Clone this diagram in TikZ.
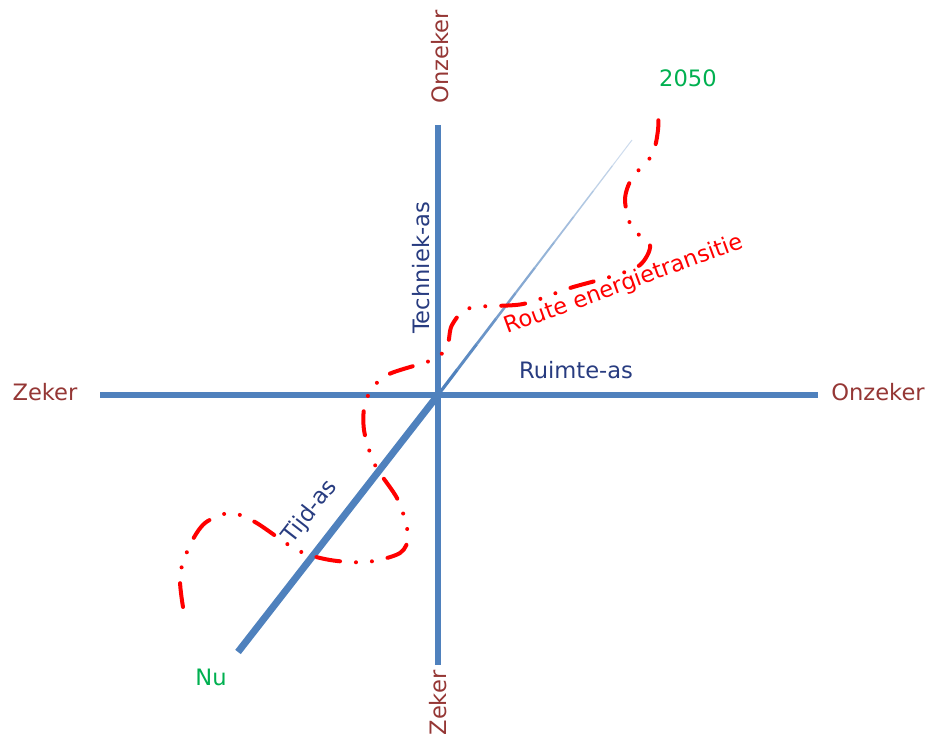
\documentclass[tikz,border=0pt]{standalone}
\usepackage{fontspec}
\setmainfont{DejaVu Sans}
\usetikzlibrary{calc}
\definecolor{axisblue}{HTML}{4F81BD}
\definecolor{asblue}{HTML}{283C80}
\definecolor{polered}{HTML}{953735}
\definecolor{timegreen}{HTML}{00B050}

\begin{document}
\begin{tikzpicture}[
    x=0.5pt, y=-0.5pt,
    axis/.style={axisblue, line width=3pt},
    label/.style={inner sep=0pt, font=\fontsize{11.3}{13}\selectfont},
    pole/.style={label, text=polered},
    asname/.style={label, text=asblue},
    moment/.style={label, text=timegreen},
    route/.style={red, line width=2pt, line cap=round,
        dash pattern=on 12pt off 8pt on 0pt off 8pt on 0pt off 8pt}
]
\useasboundingbox (0,0) rectangle (927,737);

\coordinate (ctr) at (438,395);
\coordinate (west) at (100,395);
\coordinate (east) at (818,395);
\coordinate (north) at (438,125);
\coordinate (south) at (438,665);
\coordinate (nu) at (238,652);
\coordinate (end2050) at (632,140);

\draw [axis] (west) -- (east);
\draw [axis] (north) -- (south);
\draw [axisblue, line width=3.5pt] (nu) -- (ctr);
\foreach \i in {0,...,9}
    \draw [axisblue!\the\numexpr100-8*\i\relax, line width=1.6pt-0.12pt*\i]
        ($(ctr)!\i/10!(end2050)$) -- ($(ctr)!\i/10+0.1!(end2050)$);

\draw [route] plot [smooth] coordinates {
    (183,607) (180,575) (190,545) (205,523) (230,513) (255,522) (297,550)
    (330,560) (367,562) (400,553) (408,535) (398,500) (375,465) (364,430)
    (366,400) (385,376) (432,360) (447,347) (452,325) (470,308) (523,304)
    (570,288) (613,276) (640,265) (650,245) (632,228) (625,200) (632,178)
    (652,155) (658,130) (658,108)};

\node (topunsure) [pole, rotate=90] at (440,57) {Onzeker};
\node (bottomsure) [pole, rotate=90] at (438,703) {Zeker};
\node (leftsure) [pole] at (45,392) {Zeker};
\node (rightunsure) [pole] at (878,392) {Onzeker};
\node (techniek) [asname, rotate=90] at (421,268) {Techniek-as};
\node (ruimte) [asname] at (576,370) {Ruimte-as};
\node (tijd) [asname, rotate=52] at (310,512) {Tijd-as};
\node (now) [moment] at (211,677) {Nu};
\node (future) [moment] at (688,78) {2050};
\node (routelabel) [label, text=red, rotate=20] at (624,285) {Route energietransitie};

\end{tikzpicture}
\end{document}
